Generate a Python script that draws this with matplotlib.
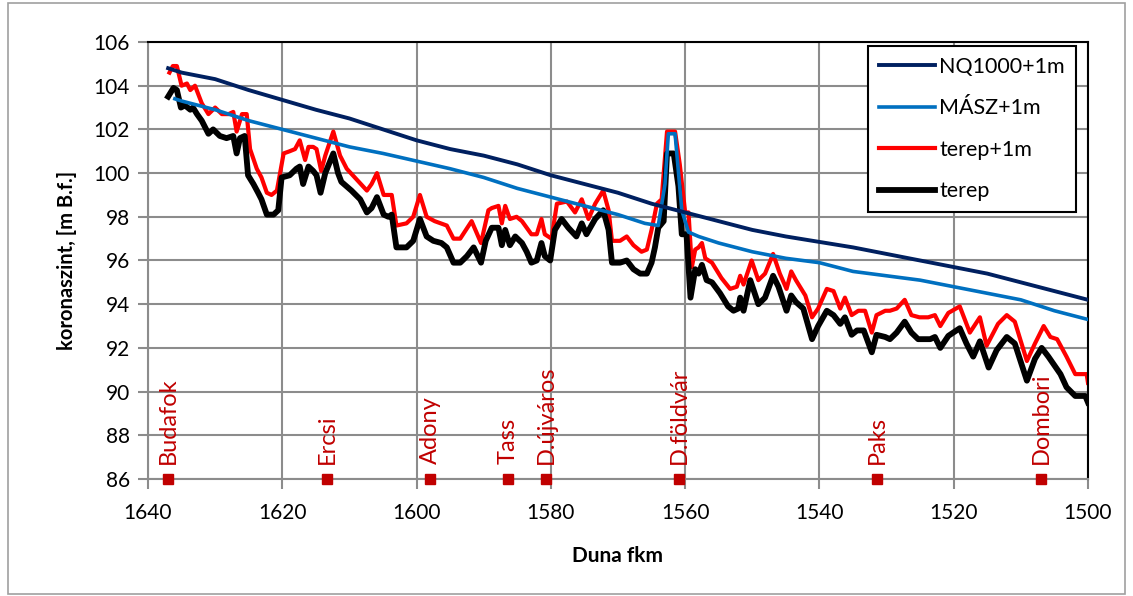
import matplotlib
matplotlib.use("Agg")
import matplotlib.pyplot as plt
from matplotlib.patches import Rectangle

plt.rcParams['font.family'] = ['Lato', 'DejaVu Sans']

# NQ1000+1m
nq_km = [1637, 1635, 1630, 1625, 1620, 1615, 1610, 1605, 1600, 1595, 1590, 1585, 1580,
         1575, 1570, 1565, 1560, 1555, 1550, 1545, 1540, 1535, 1530, 1525, 1520,
         1515, 1510, 1505, 1500]
nq_val = [104.8, 104.6, 104.3, 103.8, 103.35, 102.9, 102.5, 102.0, 101.5, 101.1, 100.8, 100.4, 99.9,
          99.5, 99.1, 98.6, 98.2, 97.8, 97.4, 97.1, 96.85, 96.6, 96.3, 96.0, 95.7,
          95.4, 95.0, 94.6, 94.2]

# MÁSZ+1m
masz_km = [1636, 1635, 1630, 1625, 1620, 1615, 1610, 1605, 1600, 1595, 1590, 1585, 1580,
           1575, 1570, 1566, 1564, 1563, 1562.5, 1561.5, 1560.5, 1559.5, 1558, 1555, 1550,
           1545, 1540, 1535, 1530, 1525, 1520, 1515, 1510, 1505, 1500]
masz_val = [103.4, 103.3, 102.9, 102.4, 102.0, 101.6, 101.2, 100.9, 100.55, 100.2, 99.8, 99.3, 98.9,
            98.5, 98.1, 97.7, 97.6, 99.5, 101.8, 101.8, 98.3, 97.3, 97.1, 96.8, 96.4,
            96.1, 95.9, 95.5, 95.3, 95.1, 94.8, 94.5, 94.2, 93.7, 93.3]

# terep+1m
red_km = [1636.8, 1636.3, 1635.7, 1635.0, 1634.2, 1633.7, 1633.0, 1632.0, 1631.0, 1630.0,
          1629.0, 1628.0, 1627.3, 1626.8, 1626.0, 1625.3, 1624.8, 1623.8, 1623.1, 1622.3,
          1621.6, 1620.8, 1619.8, 1618.9, 1618.1, 1617.4, 1616.6, 1616.1, 1615.4, 1614.9,
          1614.2, 1613.6, 1612.4, 1611.4, 1610.4, 1609.2, 1607.4, 1606.7, 1605.9, 1604.9,
          1603.7, 1603.0, 1601.5, 1600.5, 1599.5, 1598.5, 1597.3, 1595.5, 1594.5, 1593.5,
          1591.8, 1590.4, 1589.3, 1588.8, 1587.8, 1587.3, 1586.8, 1586.1, 1585.1, 1584.3,
          1582.9, 1582.1, 1581.4, 1580.9, 1579.9, 1579.1, 1577.6, 1576.4, 1575.4, 1574.4,
          1573.4, 1572.2, 1571.4, 1570.9, 1569.7, 1568.7, 1567.7, 1566.5, 1565.7, 1565.0,
          1564.2, 1563.5, 1562.7, 1561.5, 1560.8, 1560.0, 1559.5, 1559.0, 1558.5, 1558.0,
          1557.5, 1557.0, 1556.0, 1554.6, 1553.3, 1552.3, 1551.8, 1551.3, 1550.1, 1549.1,
          1548.1, 1546.9, 1545.9, 1544.9, 1544.2, 1543.5, 1542.1, 1541.1, 1540.2, 1538.9,
          1537.9, 1536.9, 1536.2, 1535.2, 1534.2, 1533.2, 1532.2, 1531.5, 1530.2, 1529.5,
          1528.5, 1527.3, 1526.3, 1525.1, 1523.8, 1522.8, 1522.0, 1520.8, 1519.1, 1517.6,
          1516.1, 1515.1, 1513.4, 1512.1, 1510.9, 1509.1, 1507.9, 1506.6, 1505.6, 1504.6,
          1503.2, 1501.9, 1500.2, 1500.0]
red_val = [104.6, 104.9, 104.9, 104.0, 104.1, 103.8, 104.0, 103.2, 102.7, 103.0,
           102.7, 102.7, 102.8, 101.9, 102.7, 102.7, 101.1, 100.2, 99.8, 99.1,
           99.0, 99.2, 100.9, 101.0, 101.1, 101.5, 100.6, 101.2, 101.2, 101.1,
           100.1, 100.8, 101.9, 100.8, 100.2, 99.8, 99.2, 99.5, 100.0, 99.0,
           99.0, 97.6, 97.7, 98.0, 99.0, 98.0, 97.8, 97.6, 97.0, 97.0,
           97.8, 96.8, 98.3, 98.4, 98.5, 97.7, 98.5, 97.9, 98.0, 97.8,
           97.2, 97.2, 97.9, 97.2, 97.0, 98.6, 98.7, 98.2, 98.8, 97.9,
           98.6, 99.2, 98.3, 96.9, 96.9, 97.1, 96.7, 96.4, 96.5, 97.4,
           98.6, 98.8, 101.9, 101.9, 100.4, 98.2, 98.2, 95.7, 96.5, 96.6,
           96.8, 96.1, 95.9, 95.2, 94.7, 94.8, 95.3, 94.9, 96.0, 95.1,
           95.4, 96.3, 95.4, 94.7, 95.5, 95.1, 94.4, 93.4, 93.8, 94.7,
           94.6, 93.8, 94.3, 93.5, 93.7, 93.7, 92.7, 93.5, 93.7, 93.7,
           93.8, 94.2, 93.5, 93.4, 93.4, 93.5, 93.0, 93.6, 93.9, 92.7,
           93.4, 92.1, 93.1, 93.5, 93.2, 91.4, 92.2, 93.0, 92.5, 92.4,
           91.6, 90.8, 90.8, 90.4]

# terep
blk_km = [1637.0, 1636.2, 1635.7, 1635.1, 1634.5, 1633.7, 1633.3, 1632.7, 1632.0, 1631.0,
          1630.3, 1629.3, 1628.3, 1627.3, 1626.8, 1626.3, 1625.6, 1625.1, 1624.3, 1623.6,
          1623.1, 1622.3, 1621.3, 1620.6, 1620.1, 1618.9, 1617.9, 1617.4, 1616.9, 1616.1,
          1615.4, 1614.9, 1614.3, 1613.6, 1612.4, 1611.7, 1611.2, 1609.7, 1608.4, 1607.4,
          1606.7, 1605.9, 1604.9, 1604.2, 1603.7, 1603.0, 1601.5, 1600.5, 1599.5, 1598.5,
          1597.5, 1596.3, 1595.5, 1594.5, 1593.5, 1592.5, 1591.5, 1590.4, 1589.7, 1588.8,
          1587.8, 1587.3, 1586.8, 1586.1, 1585.3, 1584.3, 1583.6, 1582.9, 1582.1, 1581.4,
          1580.9, 1580.1, 1579.4, 1578.4, 1577.4, 1576.2, 1575.4, 1574.7, 1573.4, 1572.2,
          1571.4, 1570.9, 1569.7, 1568.7, 1567.7, 1566.7, 1565.7, 1565.0, 1564.5, 1564.0,
          1563.2, 1562.7, 1561.7, 1561.0, 1560.5, 1559.8, 1559.2, 1558.5, 1558.0, 1557.5,
          1556.8, 1556.0, 1554.8, 1553.6, 1552.8, 1552.1, 1551.8, 1551.3, 1550.3, 1549.1,
          1548.1, 1546.9, 1546.1, 1544.9, 1544.2, 1543.5, 1542.4, 1541.1, 1540.2, 1538.9,
          1537.9, 1536.9, 1536.2, 1535.2, 1534.4, 1533.4, 1532.2, 1531.5, 1530.2, 1529.5,
          1528.5, 1527.3, 1526.3, 1525.3, 1523.5, 1522.8, 1522.0, 1520.8, 1519.1, 1518.1,
          1517.1, 1516.1, 1514.8, 1513.6, 1512.1, 1510.9, 1509.1, 1507.9, 1506.9, 1505.9,
          1504.1, 1503.2, 1501.9, 1500.4, 1500.0]
blk_val = [103.5, 103.9, 103.8, 103.0, 103.1, 102.9, 103.0, 102.7, 102.4, 101.8,
           102.0, 101.7, 101.6, 101.7, 100.9, 101.6, 101.7, 99.9, 99.5, 99.1,
           98.8, 98.1, 98.1, 98.3, 99.8, 99.9, 100.2, 100.3, 99.5, 100.3,
           100.1, 99.9, 99.1, 100.0, 100.9, 100.0, 99.6, 99.2, 98.8, 98.2,
           98.4, 98.9, 98.1, 98.0, 98.1, 96.6, 96.6, 96.9, 97.9, 97.1,
           96.9, 96.8, 96.6, 95.9, 95.9, 96.2, 96.6, 95.9, 96.9, 97.5,
           97.5, 96.7, 97.4, 96.7, 97.1, 96.8, 96.4, 95.9, 96.0, 96.8,
           96.2, 96.0, 97.4, 97.9, 97.5, 97.1, 97.7, 97.2, 97.9, 98.3,
           97.4, 95.9, 95.9, 96.0, 95.6, 95.4, 95.4, 95.9, 96.6, 97.5,
           97.8, 100.9, 100.9, 99.4, 97.2, 97.2, 94.3, 95.6, 95.4, 95.8,
           95.1, 95.0, 94.5, 93.9, 93.7, 93.8, 94.3, 93.7, 95.1, 94.0,
           94.3, 95.3, 94.8, 93.7, 94.4, 94.1, 93.8, 92.4, 93.0, 93.7,
           93.5, 93.1, 93.4, 92.6, 92.8, 92.8, 91.8, 92.6, 92.5, 92.4,
           92.7, 93.2, 92.7, 92.4, 92.4, 92.5, 92.0, 92.55, 92.9, 92.2,
           91.6, 92.3, 91.1, 91.9, 92.5, 92.2, 90.5, 91.5, 92.0, 91.6,
           90.8, 90.2, 89.8, 89.8, 89.5]

# towns along the river
town_names = ['Budafok', 'Ercsi', 'Adony', 'Tass', 'D.újváros', 'D.földvár', 'Paks', 'Dombori']
town_km = [1637.0, 1613.3, 1598.0, 1586.4, 1580.7, 1560.9, 1531.4, 1507.0]

fig = plt.figure(figsize=(11.33, 5.96), dpi=100)
fig.patches.append(Rectangle((8 / 1133, 2 / 596), 1117 / 1133, 591 / 596, transform=fig.transFigure,
                             fill=False, edgecolor='#A0A0A0', linewidth=1.2))
ax = fig.add_axes([148 / 1133, 1 - 479 / 596, 940 / 1133, 437 / 596])

ax.plot(blk_km, blk_val, color='black', lw=4.2, label='terep', zorder=3)
ax.plot(red_km, red_val, color='#FF0000', lw=3.0, label='terep+1m', zorder=2)
ax.plot(masz_km, masz_val, color='#0070C0', lw=2.6, label='MÁSZ+1m', zorder=4)
ax.plot(nq_km, nq_val, color='#002060', lw=2.8, label='NQ1000+1m', zorder=5)

ax.plot(town_km, [86] * len(town_km), 's', color='#C00000', ms=7.5, clip_on=False, zorder=6)
for name, km in zip(town_names, town_km):
    ax.annotate(name, (km, 86), xytext=(0, 11), textcoords='offset points',
                rotation=90, ha='center', va='bottom', color='#C00000', fontsize=17)

ax.set_xlim(1640, 1500)
ax.set_ylim(86, 106)
ax.set_xticks(range(1640, 1499, -20))
ax.set_yticks(range(86, 107, 2))
ax.grid(True, color='#8C8C8C', lw=1.5)
ax.set_axisbelow(True)
ax.tick_params(axis='both', direction='out', length=7, width=1.5, color='#8C8C8C',
               labelsize=15)
ax.tick_params(axis='x', pad=10)
ax.tick_params(axis='y', pad=6)
for side in ['left', 'bottom']:
    ax.spines[side].set_color('#8C8C8C')
    ax.spines[side].set_linewidth(1.5)
for side in ['top', 'right']:
    ax.spines[side].set_color('black')
    ax.spines[side].set_linewidth(1.5)

ax.set_xlabel('Duna fkm', fontsize=15, fontweight='bold', labelpad=17)
ax.set_ylabel('koronaszint, [m B.f.]', fontsize=14.5, fontweight='bold', labelpad=12)

handles, labels = ax.get_legend_handles_labels()
order = [3, 2, 1, 0]
leg = ax.legend([handles[i] for i in order], [labels[i] for i in order],
                loc='upper right', bbox_to_anchor=(0.987, 0.991), borderaxespad=0,
                fontsize=15.5, frameon=True, fancybox=False, edgecolor='black', framealpha=1,
                handlelength=2.6, handletextpad=0.2, labelspacing=1.0, borderpad=0.5)
leg.get_frame().set_linewidth(1.5)

fig.savefig('out.png', dpi=100)
